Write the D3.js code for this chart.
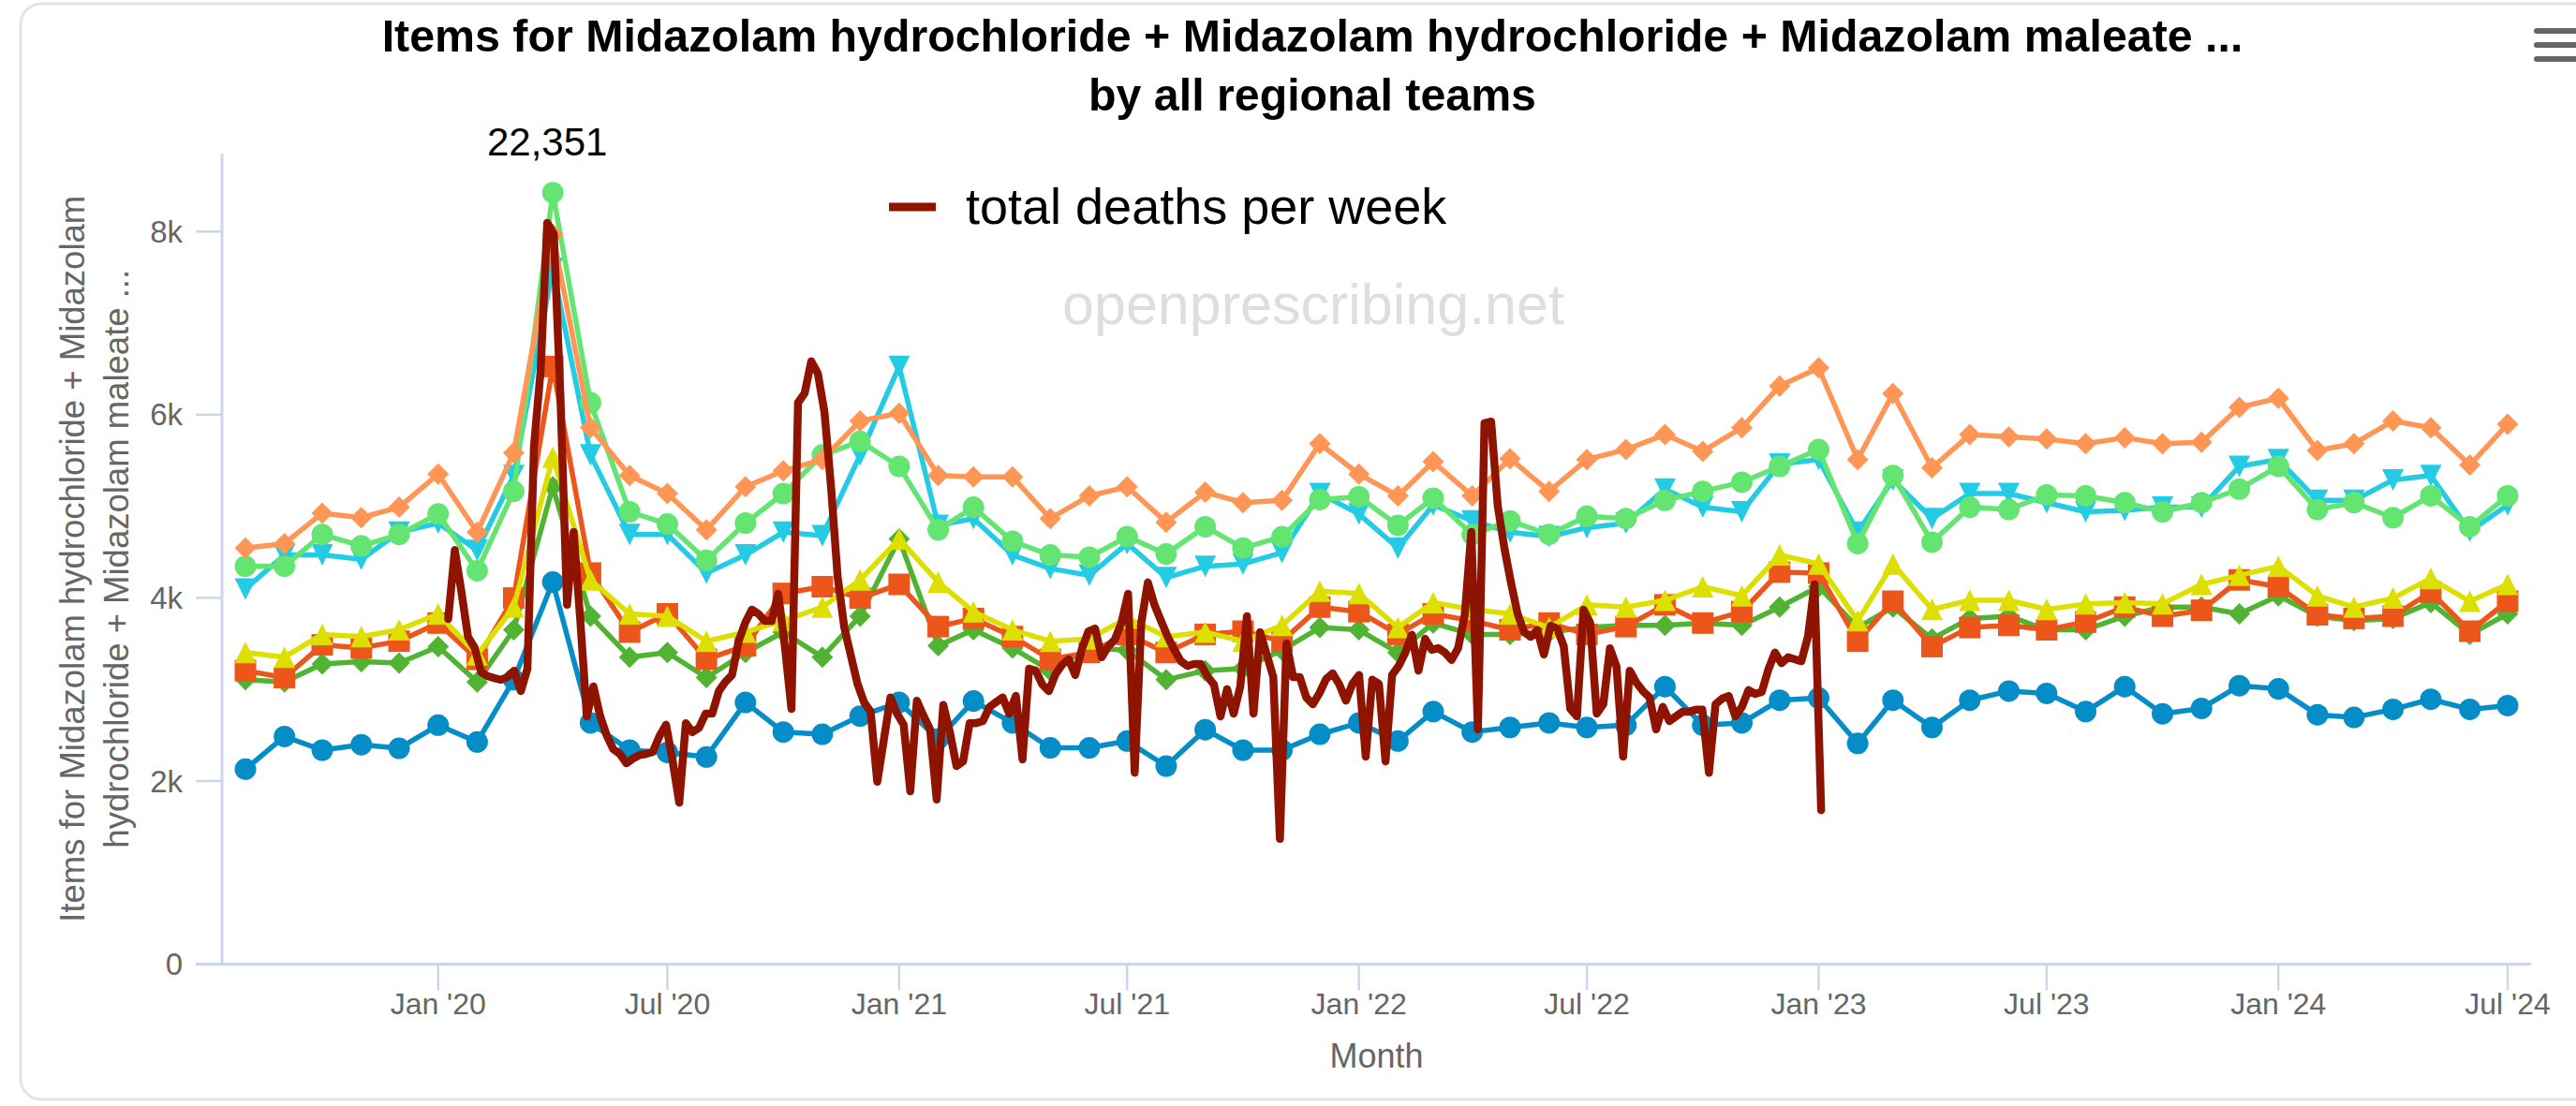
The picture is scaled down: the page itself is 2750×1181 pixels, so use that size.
<!DOCTYPE html>
<html>
<head>
<meta charset="utf-8">
<script src="https://cdn.jsdelivr.net/npm/d3@7"></script>
<style>
  html, body { margin: 0; padding: 0; background: #ffffff; }
  svg { display: block; font-family: "Liberation Sans", Arial, Helvetica, sans-serif; }
</style>
</head>
<body>
<svg id="chart" width="2750" height="1181"></svg>
<script>
// ---------------- data ----------------
// Monthly items per regional team, Aug 2019 .. Jul 2024 (60 months)
const firstMonth = Date.UTC(2019, 7, 1);
const lastMonth  = Date.UTC(2024, 6, 1);

const team1 = [2129,2486,2337,2396,2357,2610,2426,3106,4172,2634,2337,2312,
               2262,2858,2535,2510,2709,2858,2461,2873,2634,2362,2362,2436,
               2163,2560,2337,2337,2510,2634,2436,2758,2535,2585,2634,2585,
               2610,3031,2610,2634,2882,2907,2411,2882,2585,2882,2982,2957,
               2758,3031,2734,2793,3041,3006,2724,2694,2783,2892,2783,2823];
const team2 = [3106,3081,3279,3304,3289,3468,3081,3651,5213,3800,3353,3403,
               3130,3403,3626,3353,3800,4643,3477,3651,3453,3205,3453,3428,
               3106,3205,3230,3428,3676,3651,3403,3725,3601,3601,3626,3676,
               3700,3700,3725,3700,3899,4122,3676,3899,3552,3775,3800,3651,
               3651,3800,3899,3899,3825,4023,3800,3750,3775,3949,3601,3825];
const team3 = [3205,3130,3487,3453,3527,3725,3329,3998,6527,4271,3626,3825,
               3329,3477,4048,4122,3998,4147,3686,3775,3577,3329,3403,3601,
               3403,3601,3636,3527,3899,3849,3601,3825,3750,3651,3725,3601,
               3686,3924,3725,3849,4281,4271,3527,3963,3468,3676,3700,3651,
               3735,3899,3800,3864,4196,4122,3815,3775,3800,4063,3636,3963];
const team4 = [3403,3353,3601,3577,3651,3825,3378,3899,5535,4196,3825,3800,
               3527,3626,3750,3899,4196,4643,4172,3849,3651,3527,3552,3780,
               3577,3626,3527,3700,4073,4048,3676,3949,3874,3825,3676,3924,
               3899,3973,4122,4023,4469,4370,3750,4370,3874,3973,3973,3874,
               3934,3949,3934,4147,4246,4345,4023,3899,3998,4211,3963,4147];
const team5 = [4097,4469,4469,4420,4717,4816,4519,5337,7600,5560,4692,4692,
               4271,4469,4717,4678,5560,6527,4792,4866,4469,4320,4246,4593,
               4221,4345,4370,4494,5139,4916,4544,5015,4841,4717,4668,4767,
               4816,5188,4990,4940,5461,5511,4717,5287,4866,5139,5139,5040,
               4940,4955,4990,4990,5436,5511,5064,5064,5287,5337,4727,5015];
const team6 = [4345,4345,4692,4568,4692,4916,4296,5163,8426,6131,4940,4806,
               4410,4816,5139,5560,5709,5436,4742,4990,4618,4469,4444,4668,
               4479,4777,4544,4668,5074,5104,4792,5089,4692,4841,4692,4891,
               4866,5064,5163,5263,5436,5620,4593,5337,4608,4990,4965,5124,
               5114,5040,4940,5040,5188,5436,4965,5040,4876,5114,4777,5114];
const team7 = [4544,4593,4925,4876,4990,5352,4717,5585,7970,5858,5337,5139,
               4742,5213,5387,5511,5932,6016,5337,5322,5322,4866,5114,5213,
               4826,5154,5040,5064,5684,5352,5114,5486,5114,5521,5163,5511,
               5620,5783,5600,5858,6314,6512,5511,6230,5421,5783,5759,5734,
               5684,5749,5684,5699,6081,6180,5610,5684,5932,5858,5451,5897];

// Weekly registered deaths, one array per year
const deaths2020 = [12300,14050,12990,11850,11570,10950,10850,10800,10760,10830,
                    10990,10470,11040,16700,18600,22351,22070,17950,12660,14510,
                    12290,9830,10590,9850,9350,9000,8880,8640,8760,8850,
                    8880,8930,9330,9620,8700,7640,9660,9430,9540,9900,
                    9900,10470,10710,10880,11740,12210,12540,12430,12250,12250,
                    12940,11610,10020];
const deaths2021 = [17790,18030,18840,18530,17550,15650,13370,12090,11370,10660,
                    10190,9950,8170,9240,10310,9900,9620,7930,10230,9850,
                    9500,7720,10120,9430,8570,8690,9660,9660,9710,10070,
                    10190,10310,9900,10350,8740,11040,10990,10640,10470,10900,
                    11140,11280,10880,11540,11990,12060,11330,11610,11780,12210,
                    12940,8400];
const deaths2022 = [12210,13230,12660,12250,11850,11520,11230,11110,11160,11160,
                    10850,10640,9830,10520,9900,10590,12370,9900,11970,11400,
                    10830,6720,11680,10830,10830,10310,10140,10420,10780,10920,
                    10640,10230,10660,10880,8810,10760,10660,8690,10880,11110,
                    11450,11900,10990,11800,11520,11560,11450,11260,11560,12400,
                    14510,9500];
const deaths2023 = [17270,17310,15180,14110,13230,12440,11970,11850,12020,11400,
                    12130,12060,11610,10020,9830,12540,12210,9900,10140,11560,
                    11090,8810,10990,10690,10470,10310,9500,10070,9710,9830,
                    9950,9950,10000,10000,8400,10140,10280,10350,9830,10070,
                    10500,10400,10450,11020,11450,11180,11330,11280,11230,11850,
                    13180,7450];
// span of the weekly series along the time axis
const deathsFrom = Date.UTC(2020, 0, 9);
const deathsTo   = Date.UTC(2023, 0, 3);

const yTicks = [0, 2000, 4000, 6000, 8000];
const yTickLabels = ["0", "2k", "4k", "6k", "8k"];

const titleLines = [
  "Items for Midazolam hydrochloride + Midazolam hydrochloride + Midazolam maleate ...",
  "by all regional teams"
];
const yTitleLines = [
  "Items for Midazolam hydrochloride + Midazolam",
  "hydrochloride + Midazolam maleate ..."
];
const xTitle = "Month";
const deathsName = "total deaths per week";
const watermark = "openprescribing.net";

// ---------------- layout ----------------
const W = 2750, H = 1181;
const plot = { left: 237, right: 2702, top: 164, bottom: 1029.5 };
const padX = 25;

const series = [
  { values: team1, color: "#058DC7", symbol: "circle" },
  { values: team2, color: "#50B432", symbol: "diamond" },
  { values: team3, color: "#ED561B", symbol: "square" },
  { values: team4, color: "#DDDF00", symbol: "triangle" },
  { values: team5, color: "#24CBE5", symbol: "triangle-down" },
  { values: team6, color: "#64E572", symbol: "circle" },
  { values: team7, color: "#FF9655", symbol: "diamond" }
];
const deathsColor = "#8f1400";
const axisColor = "#ccd6eb";
const labelColor = "#666666";

const months = d3.utcMonth.range(new Date(firstMonth), d3.utcMonth.offset(new Date(lastMonth), 1));

const x = d3.scaleUtc()
  .domain([new Date(firstMonth), new Date(lastMonth)])
  .range([plot.left + padX, plot.right - padX]);
const y = d3.scaleLinear().domain([0, 8852]).range([plot.bottom, plot.top]);

const deaths = [].concat(deaths2020, deaths2021, deaths2022, deaths2023);
const xw = d3.scaleLinear()
  .domain([0, deaths.length - 1])
  .range([x(new Date(deathsFrom)), x(new Date(deathsTo))]);
// hidden secondary axis for the weekly deaths
const yd = d3.scaleLinear().domain([3545, 24109]).range([plot.bottom, plot.top]);

const svg = d3.select("#chart");

// card frame
svg.append("rect")
  .attr("x", 22).attr("y", 4).attr("width", 2820).attr("height", 1170)
  .attr("rx", 22).attr("ry", 22)
  .attr("fill", "#ffffff").attr("stroke", "#e3e3e3").attr("stroke-width", 3);

// context menu icon
const menu = svg.append("g").attr("stroke", "#666666").attr("stroke-width", 6).attr("stroke-linecap", "round");
[33, 48, 63].forEach(v => menu.append("line").attr("x1", 2708).attr("x2", 2770).attr("y1", v).attr("y2", v));

// title (sized to its measured width)
const title = svg.append("text")
  .attr("text-anchor", "middle")
  .attr("font-weight", "bold")
  .attr("fill", "#000000");
title.selectAll("tspan").data(titleLines).join("tspan")
  .attr("x", 1401)
  .attr("y", (d, i) => 55 + i * 63)
  .text(d => d);
title.attr("font-size", 45);
{
  const w0 = title.select("tspan").node().getComputedTextLength();
  title.attr("font-size", 45 * 1987 / w0);
}

// watermark
svg.append("text")
  .attr("x", 1402).attr("y", 346)
  .attr("text-anchor", "middle")
  .attr("font-size", 61)
  .attr("fill", "#dedede")
  .text(watermark);

// axes
const ax = svg.append("g");
ax.append("line")
  .attr("x1", plot.left - 28).attr("x2", plot.right)
  .attr("y1", plot.bottom).attr("y2", plot.bottom)
  .attr("stroke", axisColor).attr("stroke-width", 3);
ax.append("line")
  .attr("x1", plot.left).attr("x2", plot.left)
  .attr("y1", plot.top).attr("y2", plot.bottom)
  .attr("stroke", axisColor).attr("stroke-width", 3);

const xTicks = d3.utcMonth.every(6).range(new Date(Date.UTC(2020, 0, 1)), new Date(Date.UTC(2024, 6, 2)));
const fmt = d3.utcFormat("%b '%y");
const xt = ax.selectAll("g.xt").data(xTicks).join("g").attr("class", "xt")
  .attr("transform", d => `translate(${x(d)},0)`);
xt.append("line").attr("y1", plot.bottom).attr("y2", plot.bottom + 28)
  .attr("stroke", axisColor).attr("stroke-width", 2.5);
xt.append("text").attr("y", 1083).attr("text-anchor", "middle")
  .attr("font-size", 32).attr("fill", labelColor).text(d => fmt(d));

const yt = ax.selectAll("g.yt").data(yTicks).join("g").attr("class", "yt")
  .attr("transform", d => `translate(0,${y(d)})`);
yt.append("line").attr("x1", plot.left - 28).attr("x2", plot.left)
  .attr("stroke", axisColor).attr("stroke-width", 2.5);
yt.append("text").attr("x", 195).attr("dy", "0.35em").attr("text-anchor", "end")
  .attr("font-size", 33).attr("fill", labelColor).text((d, i) => yTickLabels[i]);

// axis titles
svg.append("text")
  .attr("x", (plot.left + plot.right) / 2).attr("y", 1140)
  .attr("text-anchor", "middle").attr("font-size", 36).attr("fill", labelColor)
  .text(xTitle);
const yTitle = svg.append("text")
  .attr("transform", `translate(0,${(plot.top + plot.bottom) / 2}) rotate(-90)`)
  .attr("text-anchor", "middle").attr("font-size", 36.5).attr("fill", labelColor);
yTitle.selectAll("tspan").data(yTitleLines).join("tspan")
  .attr("x", 0).attr("y", (d, i) => 90 + i * 47)
  .text(d => d);

// region series
const line = d3.line().x((d, i) => x(months[i])).y(d => y(d));
function markerPath(sym, r) {
  switch (sym) {
    case "circle": return `M${-r},0a${r},${r} 0 1,0 ${2 * r},0a${r},${r} 0 1,0 ${-2 * r},0Z`;
    case "square": return `M${-r},${-r}h${2 * r}v${2 * r}h${-2 * r}Z`;
    case "diamond": return `M0,${-r}L${r},0L0,${r}L${-r},0Z`;
    case "triangle": return `M0,${-r}L${r},${r}L${-r},${r}Z`;
    case "triangle-down": return `M${-r},${-r}L${r},${-r}L0,${r}Z`;
  }
}
const sg = svg.append("g");
series.forEach(s => {
  const g = sg.append("g");
  g.append("path").datum(s.values)
    .attr("d", line)
    .attr("fill", "none").attr("stroke", s.color)
    .attr("stroke-width", 5.5).attr("stroke-linejoin", "round").attr("stroke-linecap", "round");
  g.selectAll("path.m").data(s.values).join("path").attr("class", "m")
    .attr("transform", (d, i) => `translate(${x(months[i])},${y(d)})`)
    .attr("d", markerPath(s.symbol, 11.5))
    .attr("fill", s.color);
});

// weekly deaths series
const dline = d3.line().x((d, i) => xw(i)).y(d => yd(d));
svg.append("path").datum(deaths)
  .attr("d", dline)
  .attr("fill", "none").attr("stroke", deathsColor)
  .attr("stroke-width", 8.5).attr("stroke-linejoin", "round").attr("stroke-linecap", "round");

// label for the weekly peak
const peakIdx = d3.maxIndex(deaths);
svg.append("text")
  .attr("x", xw(peakIdx)).attr("y", yd(deaths[peakIdx]) - 72)
  .attr("text-anchor", "middle").attr("font-size", 42).attr("fill", "#000000")
  .text(d3.format(",")(deaths[peakIdx]));

// legend
const lg = svg.append("g");
lg.append("line").attr("x1", 949).attr("x2", 999).attr("y1", 221).attr("y2", 221)
  .attr("stroke", deathsColor).attr("stroke-width", 9);
lg.append("text").attr("x", 1031).attr("y", 239)
  .attr("font-size", 54).attr("fill", "#000000").text(deathsName);
</script>
</body>
</html>
